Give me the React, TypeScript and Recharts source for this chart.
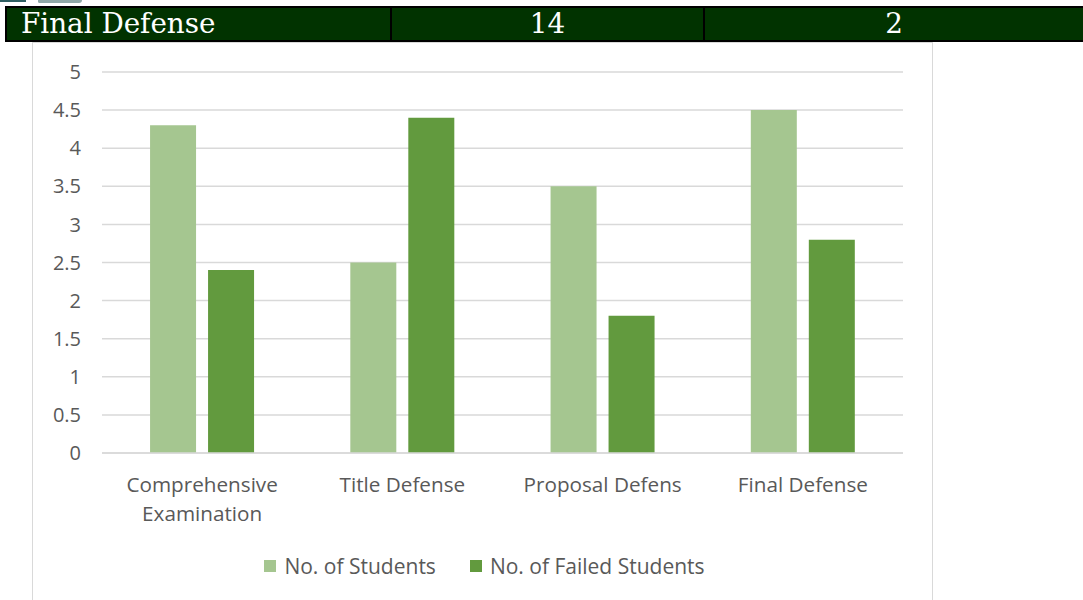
import React from "react";
import { BarChart, Bar, XAxis, YAxis, CartesianGrid, Legend, Text } from "recharts";

const categories = ["Comprehensive Examination", "Title Defense", "Proposal Defens", "Final Defense"];
const students = [4.3, 2.5, 3.5, 4.5];
const failedStudents = [2.4, 4.4, 1.8, 2.8];
const yTicks = [0, 0.5, 1, 1.5, 2, 2.5, 3, 3.5, 4, 4.5, 5];

const headerCells = ["Final Defense", "14", "2"];

const LIGHT = "#A5C690";
const DARK = "#629A3E";
const FONT = "'Open Sans', 'Noto Sans', sans-serif";

const data = categories.map((name, i) => ({
    name,
    students: students[i],
    failed: failedStudents[i],
}));

const CategoryTick = (props: any) => {
    const { x, y, payload } = props;
    return (
        <Text
            x={x}
            y={y + 16}
            width={180}
            textAnchor="middle"
            verticalAnchor="start"
            lineHeight={29}
            fill="#595959"
            fontSize={20.7}
            fontFamily={FONT}
        >
            {payload.value}
        </Text>
    );
};

const legendItems = [
    { label: "No. of Students", color: LIGHT },
    { label: "No. of Failed Students", color: DARK },
];

// centred on the whole frame, not only the plot
const LegendContent = () => (
    <div
        style={{
            boxSizing: "border-box",
            width: 870,
            paddingLeft: 33,
            display: "flex",
            justifyContent: "center",
            gap: 34,
            height: 26,
            alignItems: "center",
        }}
    >
        {legendItems.map((item) => (
            <div key={item.label} style={{ display: "flex", alignItems: "center", gap: 8 }}>
                <span style={{ width: 12, height: 12, background: item.color, display: "inline-block" }} />
                <span style={{ color: "#595959", fontSize: 21, fontFamily: FONT }}>{item.label}</span>
            </div>
        ))}
    </div>
);

export default function App() {
    return (
        <div style={{ position: "absolute", left: 0, top: 0, width: 1083, height: 600, background: "#fff", overflow: "hidden" }}>
            {/* bits of a logo cut off at the top edge */}
            <div style={{ position: "absolute", left: 0, top: 0, width: 26, height: 2, background: "#2f5f62" }} />
            <div style={{ position: "absolute", left: 38, top: 0, width: 44, height: 3, background: "#8fa8a8", borderBottomLeftRadius: 4, borderBottomRightRadius: 8 }} />

            {/* table row above the chart */}
            <div
                style={{
                    position: "absolute",
                    left: 5,
                    top: 6,
                    width: 1078,
                    height: 36,
                    boxSizing: "border-box",
                    background: "#013300",
                    borderTop: "2px solid #000",
                    borderBottom: "2px solid #000",
                    borderLeft: "2px solid #000",
                    display: "flex",
                    color: "#fff",
                    fontFamily: "'DejaVu Serif', serif",
                    fontSize: 27.8,
                }}
            >
                <div style={{ boxSizing: "border-box", width: 385, flex: "none", borderRight: "2px solid #000", paddingLeft: 14, lineHeight: "32px" }}>{headerCells[0]}</div>
                <div style={{ boxSizing: "border-box", width: 313, flex: "none", borderRight: "2px solid #000", textAlign: "center", lineHeight: "32px" }}>{headerCells[1]}</div>
                <div style={{ flex: 1, textAlign: "center", lineHeight: "32px" }}>{headerCells[2]}</div>
            </div>

            {/* chart frame */}
            <div
                style={{
                    position: "absolute",
                    left: 32,
                    top: 42,
                    width: 901,
                    height: 560,
                    boxSizing: "border-box",
                    border: "1px solid #d9d9d9",
                    background: "#fff",
                }}
            >
                <BarChart
                    width={899}
                    height={558}
                    data={data}
                    margin={{ top: 29, right: 29, left: 0, bottom: 22 }}
                    barCategoryGap="24%"
                    barGap={12}
                >
                    <CartesianGrid vertical={false} stroke="#d9d9d9" strokeWidth={1.5} />
                    <YAxis
                        width={69}
                        domain={[0, 5]}
                        ticks={yTicks}
                        axisLine={false}
                        tickLine={false}
                        tickMargin={15}
                        tick={{ fill: "#595959", fontSize: 20, fontFamily: FONT }}
                    />
                    <XAxis
                        dataKey="name"
                        height={100}
                        interval={0}
                        axisLine={{ stroke: "#d9d9d9", strokeWidth: 1.5 }}
                        tickLine={false}
                        tick={<CategoryTick />}
                    />
                    <Legend verticalAlign="bottom" content={<LegendContent />} />
                    <Bar dataKey="students" name="No. of Students" fill={LIGHT} isAnimationActive={false} />
                    <Bar dataKey="failed" name="No. of Failed Students" fill={DARK} isAnimationActive={false} />
                </BarChart>
            </div>
        </div>
    );
}
